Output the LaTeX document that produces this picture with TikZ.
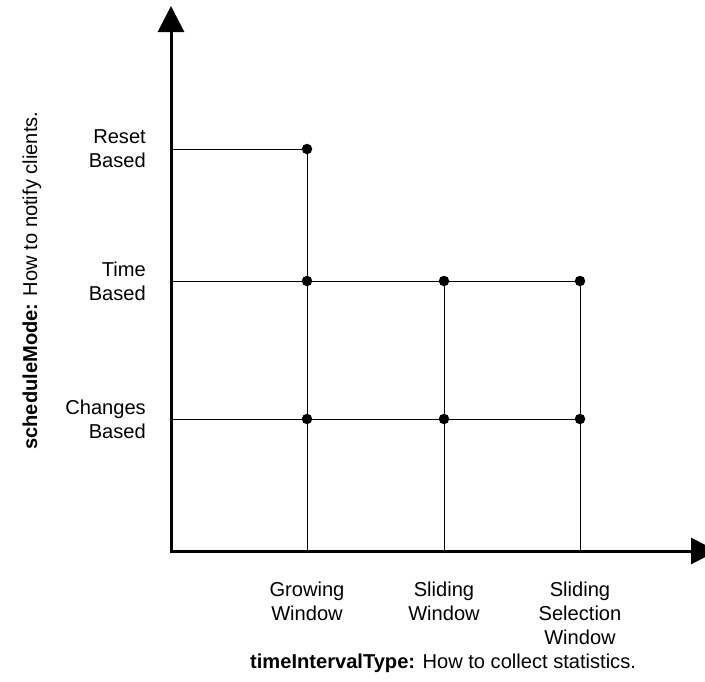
\documentclass[tikz,border=0pt]{standalone}
\usepackage{fontspec}
\setmainfont{Liberation Sans}
\usetikzlibrary{arrows.meta}

\tikzset{
  axis/.style={line width=3pt, line join=miter,
    {Triangle[length=26pt,width=26pt]}-{Triangle[length=26pt,width=26pt]}},
  gridline/.style={line width=1pt},
  dot/.style={circle, fill=black, inner sep=0pt, minimum size=10.5pt},
  lbl/.style={inner sep=0pt, font=\fontsize{20.1}{24.3}\selectfont},
}

\begin{document}
\begin{tikzpicture}[x=1pt,y=-1pt]
  \useasboundingbox (0,0) rectangle (705,681);

  % axis ends and the points where the levels meet the axes
  \coordinate (ytip) at (171,6);
  \coordinate (origin) at (171,551);
  \coordinate (xtip) at (717,551);
  \coordinate (yreset) at (171,149);
  \coordinate (ytime) at (171,281);
  \coordinate (ychange) at (171,419);
  \coordinate (xgrow) at (307,551);
  \coordinate (xslide) at (444,551);
  \coordinate (xsel) at (580,551);

  % combinations that are supported
  \node[dot] (rg) at (307,149) {};
  \node[dot] (tg) at (307,281) {};
  \node[dot] (ts) at (444,281) {};
  \node[dot] (tss) at (580,281) {};
  \node[dot] (cg) at (307,419) {};
  \node[dot] (cs) at (444,419) {};
  \node[dot] (css) at (580,419) {};

  % grid lines
  \draw[gridline] (yreset) -- (rg);
  \draw[gridline] (ytime) -- (tg) -- (ts) -- (tss);
  \draw[gridline] (ychange) -- (cg) -- (cs) -- (css);
  \draw[gridline] (xgrow) -- (cg) -- (tg) -- (rg);
  \draw[gridline] (xslide) -- (cs) -- (ts);
  \draw[gridline] (xsel) -- (css) -- (tss);

  % axes
  \draw[axis] (ytip) -- (origin) -- (xtip);

  % level labels on the vertical axis
  \node[lbl, align=right, anchor=east] (lreset) at (146,148.5) {Reset\\Based};
  \node[lbl, align=right, anchor=east] (ltime) at (146,281) {Time\\Based};
  \node[lbl, align=right, anchor=east] (lchange) at (146,419) {Changes\\Based};

  % level labels on the horizontal axis
  \node[lbl, align=center, anchor=north] (lgrow) at (307,581.5) {Growing\\Window};
  \node[lbl, align=center, anchor=north] (lslide) at (444,581.5) {Sliding\\Window};
  \node[lbl, align=center, anchor=north] (lsel) at (580,581.5) {Sliding\\Selection\\Window};

  % axis titles
  \node[lbl, anchor=base west] (xtitle) at (250,668)
    {\textbf{timeIntervalType:} How to collect statistics.};
  \node[lbl, rotate=90, anchor=base west] (ytitle) at (37,450)
    {\textbf{scheduleMode:} How to notify clients.};
\end{tikzpicture}
\end{document}
